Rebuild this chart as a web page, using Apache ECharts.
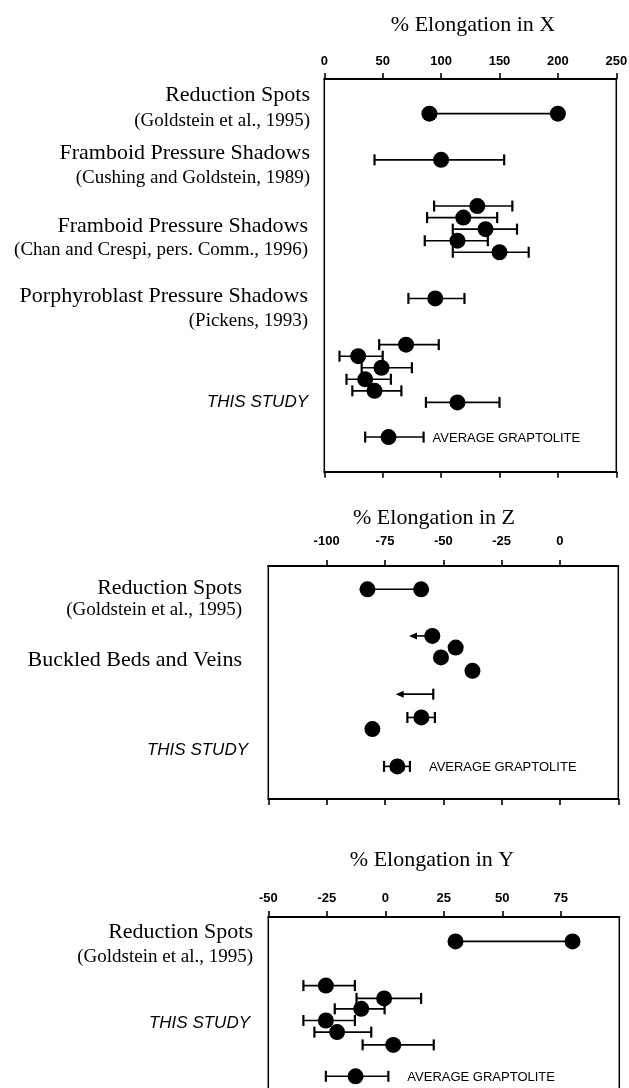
<!DOCTYPE html>
<html><head><meta charset="utf-8">
<script src="https://cdn.jsdelivr.net/npm/echarts@6/dist/echarts.min.js"></script>
<style>html,body{margin:0;padding:0;background:#fff}#c{width:629px;height:1088px}</style>
</head><body><div id="c"></div>
<script>
// ---------------- DATA ----------------
const xTicks = [0, 50, 100, 150, 200, 250];
const zTicks = [-125, -100, -75, -50, -25, 0, 25];
const yTicks = [-50, -25, 0, 25, 50, 75, 100];

// row slots (top to bottom) used as the vertical scale of each panel
const xRowExtent = [-3, 31];
const zRowExtent = [-2, 18];
const yRowExtent = [-2.1, 14.5];

// % elongation in X
const xRanges = [[90, 200, 0]];                    // [low, high, row]
const xPoints = [                                   // [value, low, high, row]
  [100, 43, 154, 4],
  [131, 94, 161, 8], [119, 88, 148, 9], [138, 110, 165, 10], [114, 86, 140, 11], [150, 110, 175, 12],
  [95, 72, 120, 16],
  [70, 47, 98, 20], [29, 13, 50, 21], [49, 32, 75, 22], [35, 19, 57, 23], [43, 24, 66, 24], [114, 87, 150, 25]
];
const xArrows = [];
const xAverage = [[55, 35, 85, 28]];

// % elongation in Z
const zRanges = [[-82.5, -59.5, 0]];
const zPoints = [
  [-54.7, null, null, 4], [-44.7, null, null, 5], [-51, null, null, 5.85], [-37.5, null, null, 7],
  [-59.4, -65.4, -53.6, 11], [-80.4, null, null, 12]
];
const zArrows = [[-54.7, -64.7, 4, 0], [-54.3, -70.4, 9, 1]]; // [from, tip, row, cap at from]
const zAverage = [[-69.7, -75.4, -64.3, 15.2]];

// % elongation in Y
const yRanges = [[30, 80, 0]];
const yPoints = [
  [-25.4, -35, -13, 3.8], [-0.5, -12.3, 15.3, 4.9], [-10.3, -21.6, -0.3, 5.8],
  [-25.4, -35, -13, 6.8], [-20.6, -30.3, -6, 7.8], [3.4, -9.7, 20.7, 8.9]
];
const yArrows = [];
const yAverage = [[-12.7, -25.4, 1.3, 11.6]];

const avgLabel = 'AVERAGE GRAPTOLITE';
const panelTitles = ['% Elongation in X', '% Elongation in Z', '% Elongation in Y'];

// ---------------- LAYOUT / STYLE ----------------
const SERIF = '"Liberation Serif", "Times New Roman", serif';
const SANS = '"Liberation Sans", Arial, sans-serif';

const panels = [
  { ticks: xTicks, rows: xRowExtent, ranges: xRanges, points: xPoints, arrows: xArrows, avg: xAverage,
    grid: { left: 324.3, top: 79, width: 292, height: 392.7 }, margin: 11, avgGap: 9, minLabel: true, maxLabel: true },
  { ticks: zTicks, rows: zRowExtent, ranges: zRanges, points: zPoints, arrows: zArrows, avg: zAverage,
    grid: { left: 268.3, top: 566, width: 350, height: 233 }, margin: 18, avgGap: 19, minLabel: false, maxLabel: false },
  { ticks: yTicks, rows: yRowExtent, ranges: yRanges, points: yPoints, arrows: yArrows, avg: yAverage,
    grid: { left: 268.3, top: 917, width: 351, height: 193 }, margin: 12, avgGap: 19, minLabel: true, maxLabel: false }
];

const sideLabels = [
  // [text, rightX, centerY, kind]
  ['Reduction Spots', 310, 95, 'main'],
  ['(Goldstein et al., 1995)', 310, 121, 'cite'],
  ['Framboid Pressure Shadows', 310, 153.5, 'main'],
  ['(Cushing and Goldstein, 1989)', 310, 178.5, 'cite'],
  ['Framboid Pressure Shadows', 308, 226.5, 'main'],
  ['(Chan and Crespi, pers. Comm., 1996)', 308, 250, 'cite'],
  ['Porphyroblast Pressure Shadows', 308, 296.5, 'main'],
  ['(Pickens, 1993)', 308, 321.5, 'cite'],
  ['THIS STUDY', 308, 402, 'study'],
  ['Reduction Spots', 242, 588.5, 'main'],
  ['(Goldstein et al., 1995)', 242, 610, 'cite'],
  ['Buckled Beds and Veins', 242, 660, 'main'],
  ['THIS STUDY', 248, 750, 'study'],
  ['Reduction Spots', 253, 932, 'main'],
  ['(Goldstein et al., 1995)', 253, 957, 'cite'],
  ['THIS STUDY', 250, 1023.5, 'study']
];
const titlePos = [[473, 25], [434, 518.5], [432, 860]];
const fonts = {
  main: '22px ' + SERIF,
  cite: '19px ' + SERIF,
  study: 'italic 17px ' + SANS,
  title: '22px ' + SERIF
};

// ---------------- RENDERERS ----------------
const BLACK = '#000';
function rangeRender(params, api) {
  const a = api.coord([api.value(0), api.value(2)]);
  const b = api.coord([api.value(1), api.value(2)]);
  return { type: 'line', shape: { x1: a[0], y1: a[1], x2: b[0], y2: b[1] }, style: { stroke: BLACK, lineWidth: 1.6 } };
}
function errRender(withText, gap) {
  return function (params, api) {
    const a = api.coord([api.value(0), api.value(2)]);
    const b = api.coord([api.value(1), api.value(2)]);
    const h = 5.5;
    const kids = [
      { type: 'line', shape: { x1: a[0], y1: a[1], x2: b[0], y2: b[1] }, style: { stroke: BLACK, lineWidth: 1.6 } },
      { type: 'line', shape: { x1: a[0], y1: a[1] - h, x2: a[0], y2: a[1] + h }, style: { stroke: BLACK, lineWidth: 2.2 } },
      { type: 'line', shape: { x1: b[0], y1: b[1] - h, x2: b[0], y2: b[1] + h }, style: { stroke: BLACK, lineWidth: 2.2 } }
    ];
    if (withText) {
      kids.push({ type: 'text', x: b[0] + gap, y: b[1] + 1,
        style: { text: avgLabel, fill: BLACK, font: '13px ' + SANS, align: 'left', verticalAlign: 'middle' } });
    }
    return { type: 'group', children: kids };
  };
}
function arrowRender(params, api) {
  const a = api.coord([api.value(0), api.value(2)]);
  const t = api.coord([api.value(1), api.value(2)]);
  const dir = a[0] > t[0] ? 1 : -1;
  const L = 8, H = 3.5;
  const kids = [
    { type: 'line', shape: { x1: a[0], y1: a[1], x2: t[0] + dir * L * 0.6, y2: t[1] }, style: { stroke: BLACK, lineWidth: 1.6 } },
    { type: 'polygon', shape: { points: [[t[0], t[1]], [t[0] + dir * L, t[1] - H], [t[0] + dir * L, t[1] + H]] }, style: { fill: BLACK } }
  ];
  if (api.value(3)) {
    kids.push({ type: 'line', shape: { x1: a[0], y1: a[1] - 5.5, x2: a[0], y2: a[1] + 5.5 }, style: { stroke: BLACK, lineWidth: 2.2 } });
  }
  return { type: 'group', children: kids };
}

// ---------------- OPTION ----------------
const grids = [], xAxes = [], yAxes = [], series = [];
panels.forEach((p, i) => {
  grids.push(Object.assign({ show: true, borderColor: BLACK, borderWidth: 1.5, backgroundColor: 'transparent',
    containLabel: false, outerBoundsMode: 'none' }, p.grid));
  const min = p.ticks[0], max = p.ticks[p.ticks.length - 1], interval = p.ticks[1] - p.ticks[0];
  const base = {
    type: 'value', gridIndex: i, min: min, max: max, interval: interval,
    axisLine: { show: true, onZero: false, lineStyle: { color: BLACK, width: 2 } },
    axisTick: { show: true, inside: false, length: 6, lineStyle: { color: BLACK, width: 1.6 } },
    splitLine: { show: false }
  };
  xAxes.push(Object.assign({}, base, { position: 'top',
    axisLabel: { show: true, margin: p.margin, color: BLACK, fontFamily: SANS, fontSize: 13, fontWeight: 'bold',
      showMinLabel: p.minLabel, showMaxLabel: p.maxLabel } }));
  xAxes.push(Object.assign({}, base, { position: 'bottom', axisLabel: { show: false } }));
  yAxes.push({ type: 'value', gridIndex: i, inverse: true, min: p.rows[0], max: p.rows[1], show: false,
    splitLine: { show: false } });

  const xi = 2 * i, yi = i;
  series.push({ type: 'custom', xAxisIndex: xi, yAxisIndex: yi, renderItem: rangeRender,
    encode: { x: [0, 1], y: 2 }, data: p.ranges, z: 2, silent: true, clip: false });
  series.push({ type: 'custom', xAxisIndex: xi, yAxisIndex: yi, renderItem: errRender(false, 0),
    encode: { x: [0, 1], y: 2 }, data: p.points.filter(d => d[1] != null).map(d => [d[1], d[2], d[3]]),
    z: 2, silent: true, clip: false });
  series.push({ type: 'custom', xAxisIndex: xi, yAxisIndex: yi, renderItem: errRender(true, p.avgGap),
    encode: { x: [0, 1], y: 2 }, data: p.avg.map(d => [d[1], d[2], d[3]]), z: 2, silent: true, clip: false });
  if (p.arrows.length) {
    series.push({ type: 'custom', xAxisIndex: xi, yAxisIndex: yi, renderItem: arrowRender,
      encode: { x: [0, 1], y: 2 }, data: p.arrows, z: 2, silent: true, clip: false });
  }
  const dots = [];
  p.ranges.forEach(d => { dots.push([d[0], d[2]]); dots.push([d[1], d[2]]); });
  p.points.forEach(d => dots.push([d[0], d[3]]));
  p.avg.forEach(d => dots.push([d[0], d[3]]));
  series.push({ type: 'scatter', xAxisIndex: xi, yAxisIndex: yi, data: dots, symbol: 'circle', symbolSize: 16,
    itemStyle: { color: BLACK, opacity: 1 }, z: 5, silent: true, clip: false });
});

const graphic = [];
sideLabels.forEach(l => {
  graphic.push({ type: 'text', x: l[1], y: l[2], silent: true,
    style: { text: l[0], fill: BLACK, font: fonts[l[3]], align: 'right', verticalAlign: 'middle' } });
});
panelTitles.forEach((t, i) => {
  graphic.push({ type: 'text', x: titlePos[i][0], y: titlePos[i][1], silent: true,
    style: { text: t, fill: BLACK, font: fonts.title, align: 'center', verticalAlign: 'middle' } });
});

const chart = echarts.init(document.getElementById('c'));
chart.setOption({
  animation: false,
  backgroundColor: '#fff',
  grid: grids,
  xAxis: xAxes,
  yAxis: yAxes,
  series: series,
  graphic: graphic
});
</script>
</body></html>
